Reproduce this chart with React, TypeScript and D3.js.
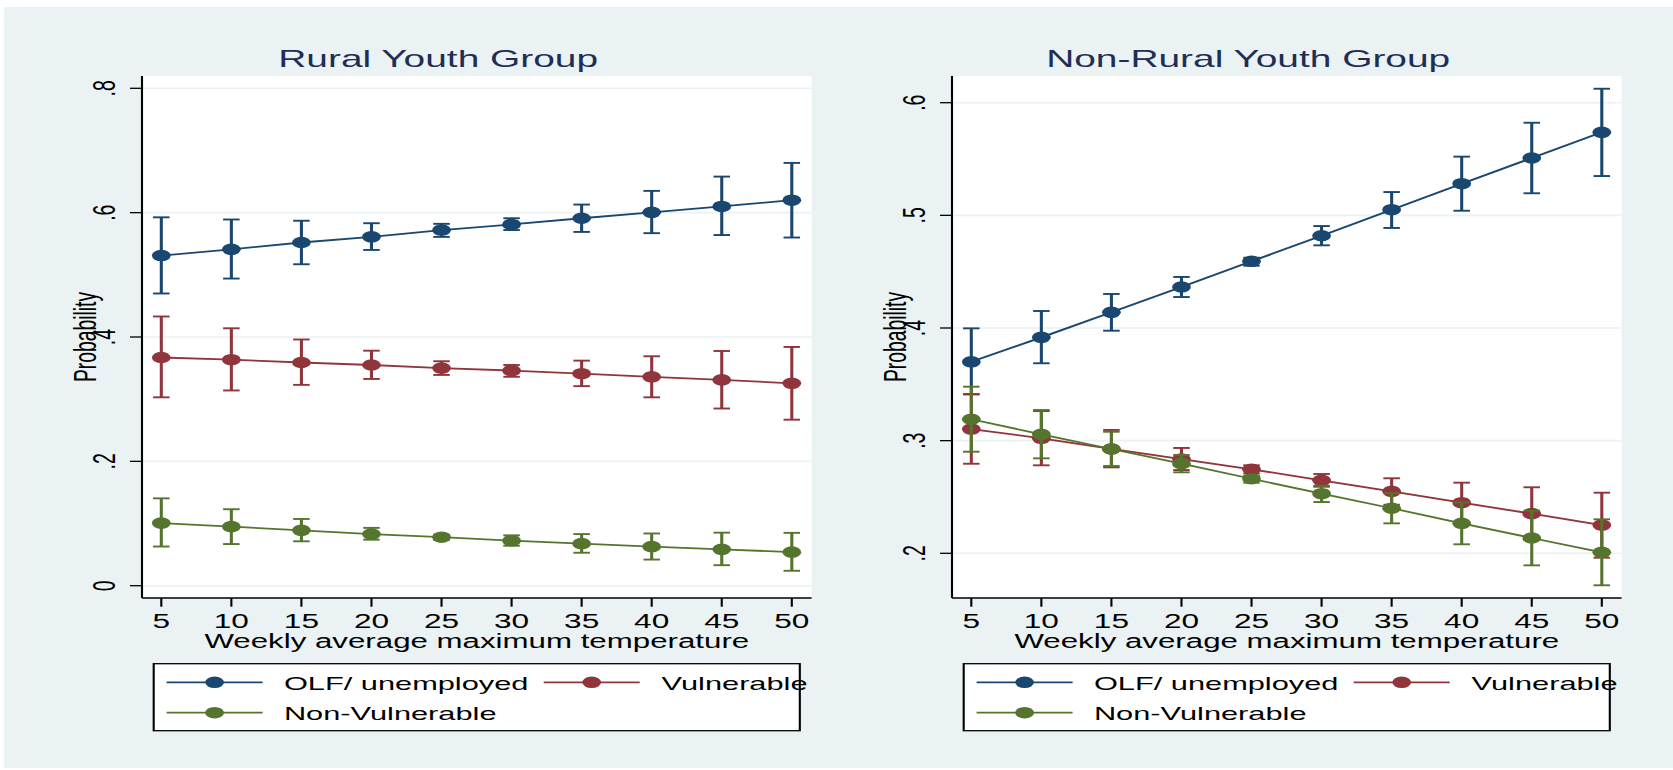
import * as d3 from 'd3';

// the picture is horizontally stretched: draw in unstretched units and let the viewBox widen it
const SX = 1.62;
const W = 1673;
const H = 770;
const fx = (px: number) => px / SX;

const temps = [5, 10, 15, 20, 25, 30, 35, 40, 45, 50];
const seriesNames = ['OLF/ unemployed', 'Vulnerable', 'Non-Vulnerable'];
const seriesColors = ['#1A476F', '#90353B', '#55752F'];

// Rural youth group
const ruralOlf = [0.531, 0.541, 0.552, 0.561, 0.572, 0.581, 0.591, 0.6005, 0.610, 0.620];
const ruralOlfLo = [0.470, 0.494, 0.517, 0.540, 0.561, 0.572, 0.569, 0.567, 0.564, 0.560];
const ruralOlfHi = [0.5925, 0.589, 0.587, 0.583, 0.582, 0.591, 0.613, 0.635, 0.658, 0.680];

const ruralVul = [0.367, 0.3635, 0.359, 0.355, 0.350, 0.346, 0.341, 0.336, 0.331, 0.3255];
const ruralVulLo = [0.303, 0.314, 0.323, 0.3325, 0.339, 0.336, 0.321, 0.303, 0.285, 0.267];
const ruralVulHi = [0.433, 0.414, 0.396, 0.378, 0.361, 0.355, 0.362, 0.369, 0.3775, 0.384];

const ruralNon = [0.1007, 0.095, 0.089, 0.083, 0.078, 0.0724, 0.0676, 0.0628, 0.0585, 0.054];
const ruralNonLo = [0.063, 0.067, 0.0714, 0.074, 0.0735, 0.0643, 0.053, 0.042, 0.033, 0.024];
const ruralNonHi = [0.1405, 0.123, 0.1073, 0.093, 0.082, 0.081, 0.083, 0.084, 0.0853, 0.085];

// Non-rural youth group
const urbanOlf = [0.370, 0.3917, 0.4139, 0.4364, 0.4592, 0.4819, 0.505, 0.5281, 0.5509, 0.5737];
const urbanOlfLo = [0.341, 0.3687, 0.3976, 0.4275, 0.4553, 0.4734, 0.4888, 0.5041, 0.5196, 0.5349];
const urbanOlfHi = [0.3997, 0.4151, 0.4302, 0.4453, 0.4624, 0.4905, 0.5207, 0.5521, 0.5822, 0.6124];

const urbanVul = [0.3103, 0.3021, 0.2926, 0.2837, 0.2746, 0.2648, 0.255, 0.2449, 0.2352, 0.2251];
const urbanVulLo = [0.2795, 0.2781, 0.2763, 0.2739, 0.271, 0.2591, 0.2431, 0.2271, 0.2118, 0.1961];
const urbanVulHi = [0.3414, 0.3263, 0.3095, 0.2935, 0.2781, 0.2704, 0.2666, 0.2627, 0.2586, 0.2538];

const urbanNon = [0.319, 0.3056, 0.2926, 0.2796, 0.2662, 0.2529, 0.240, 0.2266, 0.2136, 0.2009];
const urbanNonLo = [0.2902, 0.2843, 0.2775, 0.2719, 0.2627, 0.2455, 0.2266, 0.208, 0.1893, 0.1716];
const urbanNonHi = [0.3479, 0.3272, 0.3079, 0.2873, 0.2689, 0.260, 0.2534, 0.2452, 0.2378, 0.2302];

const ruralTicks = [0, 0.2, 0.4, 0.6, 0.8];
const urbanTicks = [0.2, 0.3, 0.4, 0.5, 0.6];

const panels = [
  {
    title: 'Rural Youth Group',
    dx: 0,
    ticks: ruralTicks,
    yPx: [585.7, 88.3],
    series: [
      { mid: ruralOlf, lo: ruralOlfLo, hi: ruralOlfHi },
      { mid: ruralVul, lo: ruralVulLo, hi: ruralVulHi },
      { mid: ruralNon, lo: ruralNonLo, hi: ruralNonHi },
    ],
  },
  {
    title: 'Non-Rural Youth Group',
    dx: 810,
    ticks: urbanTicks,
    yPx: [553.3, 102.7],
    series: [
      { mid: urbanOlf, lo: urbanOlfLo, hi: urbanOlfHi },
      { mid: urbanVul, lo: urbanVulLo, hi: urbanVulHi },
      { mid: urbanNon, lo: urbanNonLo, hi: urbanNonHi },
    ],
  },
];

const bg = '#EAF2F3';
const titleColor = '#1E2E55';
const fmt = (v: number) => (v === 0 ? '0' : d3.format('.1f')(v).replace(/^0/, ''));

function Panel({ p }: { p: (typeof panels)[number] }) {
  const plotLeft = fx(p.dx + 142);
  const plotRight = fx(p.dx + 811.6);
  const plotTop = 76;
  const plotBottom = 598;
  const mid = (plotLeft + plotRight) / 2;

  const x = d3.scaleLinear().domain([5, 50]).range([fx(p.dx + 161.3), fx(p.dx + 791.8)]);
  const y = d3
    .scaleLinear()
    .domain([p.ticks[0], p.ticks[p.ticks.length - 1]])
    .range(p.yPx);
  const line = d3
    .line<number>()
    .x((_, i) => x(temps[i]))
    .y((d) => y(d));

  const cap = 5.1;
  const r = 5.8;
  const legendLeft = fx(p.dx + 153.7);
  const legendRight = fx(p.dx + 799.8);
  const entries = [
    { lx: fx(p.dx + 166.6), tx: fx(p.dx + 283.9), row: 0 },
    { lx: fx(p.dx + 543.7), tx: fx(p.dx + 661.6), row: 0 },
    { lx: fx(p.dx + 166.6), tx: fx(p.dx + 283.9), row: 1 },
  ];
  const rowY = [682.3, 712.7];
  const lineLen = fx(96);

  return (
    <g>
      <text x={fx(p.dx + 438.2)} y={66.7} textAnchor="middle" fontSize={24} fill={titleColor}>
        {p.title}
      </text>
      <rect x={plotLeft} y={plotTop} width={plotRight - plotLeft} height={plotBottom - plotTop} fill="#fff" />

      {p.ticks.map((t) => (
        <line key={'g' + t} x1={plotLeft} x2={plotRight} y1={y(t)} y2={y(t)} stroke={bg} strokeWidth={1.6} />
      ))}

      {/* y axis */}
      <line x1={plotLeft} x2={plotLeft} y1={plotTop} y2={plotBottom} stroke="#000" strokeWidth={1.3} />
      {p.ticks.map((t) => (
        <g key={'y' + t}>
          <line x1={plotLeft - fx(12)} x2={plotLeft} y1={y(t)} y2={y(t)} stroke="#000" strokeWidth={1.3} />
          <text
            x={fx(p.dx + 115)}
            y={y(t)}
            transform={`rotate(-90, ${fx(p.dx + 115)}, ${y(t)})`}
            textAnchor="middle"
            fontSize={19.5}
          >
            {fmt(t)}
          </text>
        </g>
      ))}
      <text
        x={fx(p.dx + 96)}
        y={(plotTop + plotBottom) / 2}
        transform={`rotate(-90, ${fx(p.dx + 96)}, ${(plotTop + plotBottom) / 2})`}
        textAnchor="middle"
        fontSize={19.3}
      >
        Probability
      </text>

      {/* x axis */}
      <line x1={plotLeft} x2={plotRight} y1={plotBottom} y2={plotBottom} stroke="#000" strokeWidth={1.3} />
      {temps.map((t) => (
        <g key={'x' + t}>
          <line x1={x(t)} x2={x(t)} y1={plotBottom} y2={plotBottom + 8.7} stroke="#000" strokeWidth={1.3} />
          <text x={x(t)} y={628.3} textAnchor="middle" fontSize={19.5}>
            {t}
          </text>
        </g>
      ))}
      <text x={mid} y={647.7} textAnchor="middle" fontSize={19.3}>
        Weekly average maximum temperature
      </text>

      {p.series.map((s, k) => (
        <g key={'s' + k} stroke={seriesColors[k]} fill={seriesColors[k]}>
          {temps.map((t, i) => (
            <g key={t} strokeWidth={1.9}>
              <line x1={x(t)} x2={x(t)} y1={y(s.lo[i])} y2={y(s.hi[i])} />
              <line x1={x(t) - cap} x2={x(t) + cap} y1={y(s.lo[i])} y2={y(s.lo[i])} />
              <line x1={x(t) - cap} x2={x(t) + cap} y1={y(s.hi[i])} y2={y(s.hi[i])} />
            </g>
          ))}
          <path d={line(s.mid) ?? ''} fill="none" strokeWidth={1.8} />
          {s.mid.map((v, i) => (
            <circle key={i} cx={x(temps[i])} cy={y(v)} r={r} stroke="none" />
          ))}
        </g>
      ))}

      {/* legend */}
      <rect
        x={legendLeft}
        y={663.7}
        width={legendRight - legendLeft}
        height={67}
        fill="#fff"
        stroke="#000"
        strokeWidth={1.3}
      />
      {entries.map((e, k) => (
        <g key={'l' + k}>
          <line
            x1={e.lx}
            x2={e.lx + lineLen}
            y1={rowY[e.row]}
            y2={rowY[e.row]}
            stroke={seriesColors[k]}
            strokeWidth={1.8}
          />
          <circle cx={e.lx + lineLen / 2} cy={rowY[e.row]} r={r} fill={seriesColors[k]} />
          <text x={e.tx} y={rowY[e.row] + 7.3} fontSize={19}>
            {seriesNames[k]}
          </text>
        </g>
      ))}
    </g>
  );
}

export default function App() {
  return (
    <svg
      width={W}
      height={H}
      viewBox={`0 0 ${W / SX} ${H}`}
      preserveAspectRatio="none"
      style={{ position: 'absolute', left: 0, top: 0, display: 'block' }}
      fontFamily="'Liberation Sans', Arial, sans-serif"
    >
      <rect x={0} y={0} width={W / SX} height={H} fill="#fff" />
      <rect x={fx(4)} y={7} width={W / SX} height={761} fill={bg} />
      {panels.map((p) => (
        <Panel key={p.title} p={p} />
      ))}
    </svg>
  );
}
